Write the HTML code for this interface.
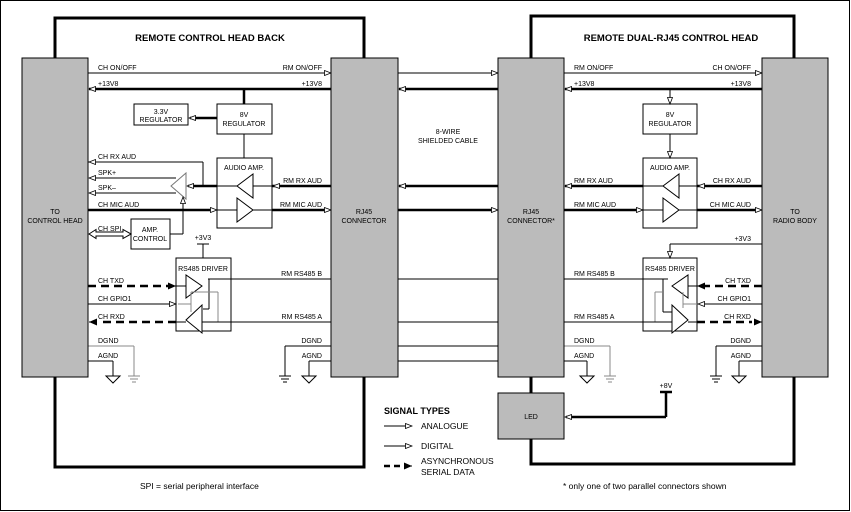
<!DOCTYPE html>
<html><head><meta charset="utf-8"><style>
body{margin:0;background:#fff}
svg{display:block;font-family:"Liberation Sans",sans-serif}
text{font-size:7px;fill:#000}
text.b{font-weight:bold;font-size:9.5px}
text.l{font-size:8.5px}
text.h{font-size:9px;font-weight:bold}
</style></head><body>
<svg width="851" height="512" viewBox="0 0 851 512" xmlns="http://www.w3.org/2000/svg">
<defs>
<marker id="oa" markerWidth="8" markerHeight="6" refX="7" refY="3" orient="auto" markerUnits="userSpaceOnUse"><path d="M0.5,0.5 L7,3 L0.5,5.5 Z" fill="#fff" stroke="#000" stroke-width="0.8"/></marker>
<marker id="fa" markerWidth="9" markerHeight="7" refX="8" refY="3.5" orient="auto" markerUnits="userSpaceOnUse"><path d="M0,0 L8,3.5 L0,7 Z" fill="#000"/></marker>
</defs>
<rect x="0.5" y="0.5" width="849" height="510" fill="#fff" stroke="#000"/>
<rect x="55" y="18" width="309" height="449" fill="none" stroke="#000" stroke-width="3"/>
<rect x="531" y="16" width="263" height="448" fill="none" stroke="#000" stroke-width="3"/>
<text x="210" y="41" class="b" text-anchor="middle">REMOTE CONTROL HEAD BACK</text>
<text x="671" y="41" class="b" text-anchor="middle">REMOTE DUAL-RJ45 CONTROL HEAD</text>

<g stroke="#000" fill="none">
<line x1="88" y1="73" x2="331" y2="73" marker-end="url(#oa)"/>
<line x1="398" y1="73" x2="498" y2="73" marker-end="url(#oa)"/>
<line x1="564" y1="73" x2="762" y2="73" marker-end="url(#oa)"/>
<g stroke-width="2.5">
<line x1="331" y1="89" x2="89" y2="89"/>
<line x1="498" y1="89" x2="399" y2="89"/>
<line x1="762" y1="89" x2="565" y2="89"/>
<line x1="244" y1="89" x2="244" y2="104"/>
<line x1="217" y1="118" x2="190" y2="118"/>
<line x1="331" y1="186" x2="272" y2="186"/>
<line x1="498" y1="186" x2="399" y2="186"/>
<line x1="643" y1="186" x2="565" y2="186"/>
<line x1="762" y1="186" x2="697" y2="186"/>
<line x1="217" y1="186" x2="188" y2="186"/>
<line x1="88" y1="210" x2="210" y2="210"/>
<line x1="272" y1="210" x2="329" y2="210"/>
<line x1="398" y1="210" x2="496" y2="210"/>
<line x1="564" y1="210" x2="641" y2="210"/>
<line x1="697" y1="210" x2="760" y2="210"/>
<line x1="531" y1="377" x2="531" y2="393"/>
<line x1="666" y1="392" x2="666" y2="417"/><line x1="666" y1="417" x2="566" y2="417"/>
<line x1="660" y1="392" x2="672" y2="392"/>
</g>
<line x1="100" y1="89" x2="89" y2="89" marker-end="url(#oa)"/>
<line x1="410" y1="89" x2="399" y2="89" marker-end="url(#oa)"/>
<line x1="576" y1="89" x2="565" y2="89" marker-end="url(#oa)"/>
<line x1="200" y1="118" x2="189" y2="118" marker-end="url(#oa)"/>
<line x1="285" y1="186" x2="273" y2="186" marker-end="url(#oa)"/>
<line x1="410" y1="186" x2="399" y2="186" marker-end="url(#oa)"/>
<line x1="576" y1="186" x2="565" y2="186" marker-end="url(#oa)"/>
<line x1="710" y1="186" x2="698" y2="186" marker-end="url(#oa)"/>
<line x1="196" y1="186" x2="187" y2="186" marker-end="url(#oa)"/>
<line x1="205" y1="210" x2="217" y2="210" marker-end="url(#oa)"/>
<line x1="320" y1="210" x2="331" y2="210" marker-end="url(#oa)"/>
<line x1="488" y1="210" x2="498" y2="210" marker-end="url(#oa)"/>
<line x1="632" y1="210" x2="643" y2="210" marker-end="url(#oa)"/>
<line x1="752" y1="210" x2="762" y2="210" marker-end="url(#oa)"/>
<line x1="580" y1="417" x2="565" y2="417" marker-end="url(#oa)"/>
<rect x="134" y="104" width="54" height="21" fill="#fff"/>
<rect x="217" y="104" width="55" height="30" fill="#fff"/>
<rect x="217" y="158" width="55" height="70" fill="#fff"/>
<rect x="131" y="219" width="39" height="30" fill="#fff"/>
<rect x="176" y="258" width="55" height="73" fill="#fff"/>
<rect x="643" y="104" width="54" height="30" fill="#fff"/>
<rect x="643" y="158" width="54" height="70" fill="#fff"/>
<rect x="643" y="258" width="54" height="73" fill="#fff"/>
<line x1="244" y1="134" x2="244" y2="158"/>
<line x1="670" y1="89" x2="670" y2="104" marker-end="url(#oa)"/>
<line x1="670" y1="134" x2="670" y2="158" marker-end="url(#oa)"/>
<path d="M237,186 L253,174 L253,198 Z M237,210 L237,198 L253,210 L237,222 Z" fill="#fff"/>
<path d="M663,186 L679,174 L679,198 Z M663,198 L679,210 L663,222 Z" fill="#fff"/>
<line x1="217" y1="186" x2="237" y2="186"/><line x1="253" y1="186" x2="272" y2="186"/>
<line x1="217" y1="210" x2="237" y2="210"/><line x1="253" y1="210" x2="272" y2="210"/>
<line x1="643" y1="186" x2="663" y2="186"/><line x1="679" y1="186" x2="697" y2="186"/>
<line x1="643" y1="210" x2="663" y2="210"/><line x1="679" y1="210" x2="697" y2="210"/>
<path d="M171,186 L186,173 L186,199 Z" fill="#fff" stroke="#777"/>
<line x1="88" y1="162" x2="203" y2="162"/><line x1="203" y1="162" x2="203" y2="186"/>
<line x1="176" y1="178" x2="89" y2="178" marker-end="url(#oa)"/>
<line x1="176" y1="193" x2="89" y2="193" marker-end="url(#oa)"/>
<line x1="100" y1="162" x2="89" y2="162" marker-end="url(#oa)"/>
<line x1="170" y1="234" x2="183" y2="234"/><line x1="183" y1="234" x2="183" y2="197" marker-end="url(#oa)"/>
<path d="M89,234 L96,229.5 L96,232 L123,232 L123,229.5 L131,234 L123,238.5 L123,236 L96,236 L96,238.5 Z" fill="#fff"/>
<line x1="197" y1="244" x2="209" y2="244"/><line x1="203" y1="244" x2="203" y2="258"/>
<line x1="762" y1="244" x2="670" y2="244"/><line x1="670" y1="244" x2="670" y2="258" marker-end="url(#oa)"/>
<line x1="208" y1="279" x2="331" y2="279"/>
<line x1="208" y1="322" x2="331" y2="322"/>
<line x1="398" y1="279" x2="498" y2="279"/><line x1="398" y1="322" x2="498" y2="322"/>
<line x1="564" y1="279" x2="668" y2="279"/><line x1="564" y1="322" x2="662" y2="322"/>
<line x1="88" y1="304" x2="176" y2="304" marker-end="url(#oa)"/>
<line x1="772" y1="304" x2="698" y2="304" marker-end="url(#oa)"/>
<g stroke-width="2.5" stroke-dasharray="8,5">
<line x1="88" y1="286" x2="170" y2="286"/>
<line x1="176" y1="322" x2="100" y2="322"/>
<line x1="762" y1="286" x2="705" y2="286"/>
<line x1="697" y1="322" x2="752" y2="322"/>
</g>
<line x1="170" y1="286" x2="176" y2="286" marker-end="url(#fa)"/>
<line x1="96" y1="322" x2="89" y2="322" marker-end="url(#fa)"/>
<line x1="704" y1="286" x2="697" y2="286" marker-end="url(#fa)"/>
<line x1="755" y1="322" x2="762" y2="322" marker-end="url(#fa)"/>
<path d="M186,275 L186,298 L202,286 Z M202,333 L202,305 L186,320 Z" fill="#fff"/>
<line x1="176" y1="286" x2="186" y2="286"/>
<line x1="209" y1="279" x2="209" y2="309"/><line x1="209" y1="309" x2="203" y2="309"/>
<line x1="178" y1="304" x2="191" y2="304" stroke="#888"/>
<line x1="191" y1="292" x2="191" y2="312" stroke="#888"/>
<line x1="191" y1="292" x2="218" y2="292" stroke="#888"/><line x1="218" y1="292" x2="218" y2="322" stroke="#888"/>
<line x1="176" y1="322" x2="186" y2="322"/><line x1="202" y1="322" x2="231" y2="322"/>
<path d="M672,286 L688,275 L688,298 Z M672,305 L672,333 L688,320 Z" fill="#fff"/>
<line x1="688" y1="286" x2="697" y2="286"/>
<line x1="663" y1="279" x2="663" y2="312"/><line x1="663" y1="312" x2="672" y2="312"/>
<line x1="697" y1="304" x2="683" y2="304" stroke="#888"/>
<line x1="683" y1="292" x2="683" y2="308" stroke="#888"/>
<line x1="655" y1="292" x2="655" y2="322" stroke="#888"/><line x1="655" y1="292" x2="662" y2="292" stroke="#888"/>
<line x1="688" y1="322" x2="697" y2="322"/><line x1="643" y1="322" x2="672" y2="322"/>
<line x1="88" y1="346" x2="134" y2="346" stroke="#888"/><line x1="134" y1="346" x2="134" y2="376" stroke="#888"/>
<path d="M128,376 H140 M130,379 H138 M132,382 H136" stroke="#888"/>
<line x1="88" y1="361" x2="113" y2="361"/><line x1="113" y1="361" x2="113" y2="376"/>
<path d="M106,376 H120 L113,383 Z" fill="#fff"/>
<line x1="331" y1="346" x2="285" y2="346"/><line x1="285" y1="346" x2="285" y2="376"/>
<path d="M279,376 H291 M281,379 H289 M283,382 H287"/>
<line x1="331" y1="361" x2="309" y2="361"/><line x1="309" y1="361" x2="309" y2="376"/>
<path d="M302,376 H316 L309,383 Z" fill="#fff"/>
<line x1="398" y1="346" x2="498" y2="346"/><line x1="398" y1="361" x2="498" y2="361"/>
<line x1="564" y1="346" x2="610" y2="346" stroke="#888"/><line x1="610" y1="346" x2="610" y2="376" stroke="#888"/>
<path d="M604,376 H616 M606,379 H614 M608,382 H612" stroke="#888"/>
<line x1="564" y1="361" x2="587" y2="361"/><line x1="587" y1="361" x2="587" y2="376"/>
<path d="M580,376 H594 L587,383 Z" fill="#fff"/>
<line x1="762" y1="346" x2="716" y2="346"/><line x1="716" y1="346" x2="716" y2="376"/>
<path d="M710,376 H722 M712,379 H720 M714,382 H718"/>
<line x1="762" y1="361" x2="739" y2="361"/><line x1="739" y1="361" x2="739" y2="376"/>
<path d="M732,376 H746 L739,383 Z" fill="#fff"/>
<line x1="384" y1="426" x2="412" y2="426" marker-end="url(#oa)"/>
<line x1="384" y1="446" x2="412" y2="446" marker-end="url(#oa)"/>
<line x1="384" y1="466" x2="405" y2="466" stroke-width="2.5" stroke-dasharray="6,4"/>
<line x1="404" y1="466" x2="412" y2="466" marker-end="url(#fa)"/>
</g>
<g fill="#bbb" stroke="#000">
<rect x="22" y="58" width="66" height="319"/>
<rect x="331" y="58" width="67" height="319"/>
<rect x="498" y="58" width="66" height="319"/>
<rect x="762" y="58" width="66" height="319"/>
<rect x="498" y="393" width="66" height="46"/>
</g>
<g text-anchor="middle">
<text x="55" y="214">TO</text><text x="55" y="223">CONTROL HEAD</text>
<text x="364" y="214">RJ45</text><text x="364" y="223">CONNECTOR</text>
<text x="531" y="214">RJ45</text><text x="531" y="223">CONNECTOR*</text>
<text x="795" y="214">TO</text><text x="795" y="223">RADIO BODY</text>
<text x="531" y="419">LED</text>
<text x="161" y="114">3.3V</text><text x="161" y="122">REGULATOR</text>
<text x="244" y="117">8V</text><text x="244" y="126">REGULATOR</text>
<text x="670" y="117">8V</text><text x="670" y="126">REGULATOR</text>
<text x="244" y="170">AUDIO AMP.</text><text x="670" y="170">AUDIO AMP.</text>
<text x="150" y="232">AMP.</text><text x="150" y="241">CONTROL</text>
<text x="203" y="240">+3V3</text>
<text x="203" y="271">RS485 DRIVER</text><text x="670" y="271">RS485 DRIVER</text>
<text x="448" y="134">8-WIRE</text><text x="448" y="143">SHIELDED CABLE</text>
<text x="666" y="388">+8V</text>
</g>
<g>
<text x="98" y="70">CH ON/OFF</text><text x="98" y="86">+13V8</text>
<text x="98" y="159">CH RX AUD</text><text x="98" y="175">SPK+</text><text x="98" y="190">SPK–</text>
<text x="98" y="207">CH MIC AUD</text><text x="98" y="231">CH SPI</text>
<text x="98" y="283">CH TXD</text><text x="98" y="301">CH GPIO1</text><text x="98" y="319">CH RXD</text>
<text x="98" y="343">DGND</text><text x="98" y="358">AGND</text>
<text x="574" y="70">RM ON/OFF</text><text x="574" y="86">+13V8</text>
<text x="574" y="183">RM RX AUD</text><text x="574" y="207">RM MIC AUD</text>
<text x="574" y="276">RM RS485 B</text><text x="574" y="319">RM RS485 A</text>
<text x="574" y="343">DGND</text><text x="574" y="358">AGND</text>
</g>
<g text-anchor="end">
<text x="322" y="70">RM ON/OFF</text><text x="322" y="86">+13V8</text>
<text x="322" y="183">RM RX AUD</text><text x="322" y="207">RM MIC AUD</text>
<text x="322" y="276">RM RS485 B</text><text x="322" y="319">RM RS485 A</text>
<text x="322" y="343">DGND</text><text x="322" y="358">AGND</text>
<text x="751" y="70">CH ON/OFF</text><text x="751" y="86">+13V8</text>
<text x="751" y="183">CH RX AUD</text><text x="751" y="207">CH MIC AUD</text>
<text x="751" y="241">+3V3</text>
<text x="751" y="283">CH TXD</text><text x="751" y="301">CH GPIO1</text><text x="751" y="319">CH RXD</text>
<text x="751" y="343">DGND</text><text x="751" y="358">AGND</text>
</g>
<text x="384" y="414" class="h">SIGNAL TYPES</text>
<text x="421" y="429" class="l">ANALOGUE</text>
<text x="421" y="449" class="l">DIGITAL</text>
<text x="421" y="464" class="l">ASYNCHRONOUS</text>
<text x="421" y="475" class="l">SERIAL DATA</text>
<text x="140" y="489" class="l">SPI = serial peripheral interface</text>
<text x="563" y="489" class="l">* only one of two parallel connectors shown</text>
</svg>
</body></html>
